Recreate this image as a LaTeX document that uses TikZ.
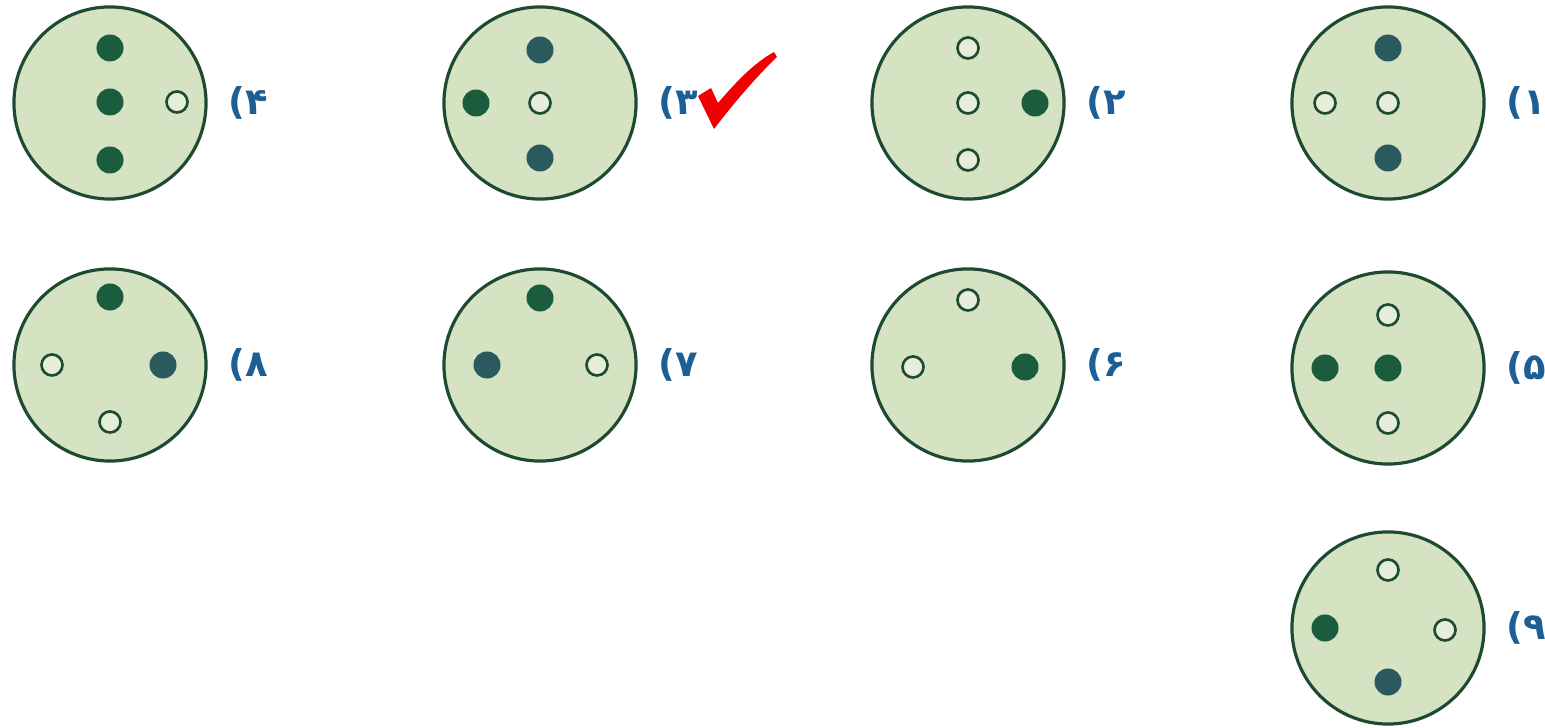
\documentclass[tikz,border=0pt]{standalone}
\usepackage{fontspec}
\newfontfamily\digitfont{DejaVu Sans}
\usetikzlibrary{positioning}
\definecolor{DiscFill}{HTML}{D5E3C2}
\definecolor{DiscEdge}{HTML}{1E4A32}
\definecolor{PinGreen}{HTML}{1B5C3E}
\definecolor{PinTeal}{HTML}{2B5A5E}
\definecolor{LabelBlue}{HTML}{1D5F95}
\definecolor{TickRed}{HTML}{F00000}

\tikzset{
  disc/.style={circle, draw=DiscEdge, fill=DiscFill, line width=0.9pt, minimum size=1.92cm, inner sep=0pt},
  pingreen/.style={circle, fill=PinGreen, minimum size=0.27cm, inner sep=0pt},
  pinteal/.style={circle, fill=PinTeal, minimum size=0.27cm, inner sep=0pt},
  pinopen/.style={circle, draw=DiscEdge, fill=DiscFill!60!white, line width=0.75pt, minimum size=0.21cm, inner sep=0pt},
  optlabel/.style={right=0.2cm of #1, inner sep=0pt, text=LabelBlue, font=\digitfont\bfseries\fontsize{10.5}{12}\selectfont}
}

\begin{document}
\begin{tikzpicture}[x=0.01cm, y=-0.01cm]
  \useasboundingbox (0,0) rectangle (1545,728);

  % first row
  \node[disc] (d4) at (110,103) {};
  \node[pingreen] (d4a) at (110,48) {};
  \node[pingreen] (d4b) at (110,102) {};
  \node[pingreen] (d4c) at (110,160) {};
  \node[pinopen] (d4d) at (177,102) {};
  \node[optlabel=d4] (l4) {(۴};

  \node[disc] (d3) at (540,103) {};
  \node[pinteal] (d3a) at (540,50) {};
  \node[pingreen] (d3b) at (476,103) {};
  \node[pinopen] (d3c) at (540,103) {};
  \node[pinteal] (d3d) at (540,158) {};
  \node[optlabel=d3] (l3) {(۳};
  \fill[TickRed] (698,96) -- (711,88) -- (718,103)
    .. controls (736,82) and (754,63) .. (774,52) -- (777,57)
    .. controls (756,77) and (734,103) .. (714,129) -- cycle;

  \node[disc] (d2) at (968,103) {};
  \node[pinopen] (d2a) at (968,48) {};
  \node[pinopen] (d2b) at (968,103) {};
  \node[pinopen] (d2c) at (968,160) {};
  \node[pingreen] (d2d) at (1035,103) {};
  \node[optlabel=d2] (l2) {(۲};

  \node[disc] (d1) at (1388,103) {};
  \node[pinteal] (d1a) at (1388,48) {};
  \node[pinopen] (d1b) at (1325,103) {};
  \node[pinopen] (d1c) at (1388,103) {};
  \node[pinteal] (d1d) at (1388,158) {};
  \node[optlabel=d1] (l1) {(۱};

  % second row
  \node[disc] (d8) at (110,365) {};
  \node[pingreen] (d8a) at (110,297) {};
  \node[pinopen] (d8b) at (52,365) {};
  \node[pinteal] (d8c) at (163,365) {};
  \node[pinopen] (d8d) at (110,422) {};
  \node[optlabel=d8] (l8) {(۸};

  \node[disc] (d7) at (540,365) {};
  \node[pingreen] (d7a) at (540,298) {};
  \node[pinteal] (d7b) at (487,365) {};
  \node[pinopen] (d7c) at (597,365) {};
  \node[optlabel=d7] (l7) {(۷};

  \node[disc] (d6) at (968,365) {};
  \node[pinopen] (d6a) at (968,300) {};
  \node[pinopen] (d6b) at (913,367) {};
  \node[pingreen] (d6c) at (1025,367) {};
  \node[optlabel=d6] (l6) {(۶};

  \node[disc] (d5) at (1388,368) {};
  \node[pinopen] (d5a) at (1388,315) {};
  \node[pingreen] (d5b) at (1325,368) {};
  \node[pingreen] (d5c) at (1388,368) {};
  \node[pinopen] (d5d) at (1388,423) {};
  \node[optlabel=d5] (l5) {(۵};

  % third row
  \node[disc] (d9) at (1388,628) {};
  \node[pinopen] (d9a) at (1388,570) {};
  \node[pingreen] (d9b) at (1325,628) {};
  \node[pinopen] (d9c) at (1445,630) {};
  \node[pinteal] (d9d) at (1388,682) {};
  \node[optlabel=d9] (l9) {(۹};
\end{tikzpicture}
\end{document}
